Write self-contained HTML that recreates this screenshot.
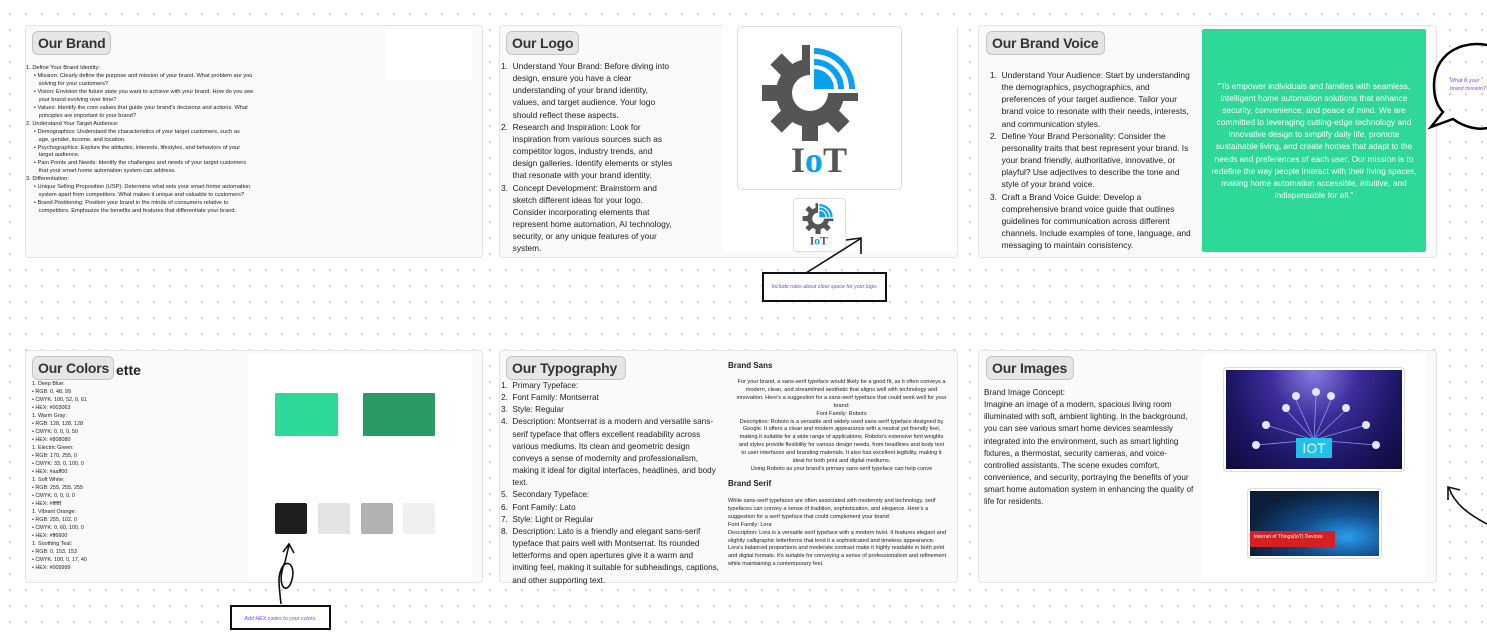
<!DOCTYPE html>
<html><head><meta charset="utf-8"><style>
*{margin:0;padding:0;box-sizing:border-box}
body{width:1487px;height:625px;overflow:hidden;position:relative;font-family:"Liberation Sans",sans-serif;color:#222;
background-color:#fff;background-image:radial-gradient(circle,#c8c8c8 0.8px,transparent 1.2px);background-size:16px 16px;background-position:2px 6px}
.a{position:absolute}
.panel{position:absolute;background:#fafafa;border:1px solid #e4e4e4;border-radius:4px}
.title{position:absolute;background:#e6e6e6;border:1px solid #c4c4c4;border-radius:6px;font-size:14px;font-weight:bold;color:#333;padding:0 5px;height:24px;line-height:23px;white-space:nowrap;overflow:hidden;letter-spacing:-0.2px}
.t{position:absolute;white-space:nowrap}
.tiny{font-size:5.7px;line-height:7.95px;color:#222}
.mid{font-size:8.4px;line-height:12.15px;color:#222}
.note{position:absolute;border:2px solid #111;background:#fff;color:#8a3ffc;font-style:italic;font-size:5.3px;text-align:center}
</style></head><body>

<!-- Panel 1 Our Brand -->
<div class="panel" style="left:25px;top:25px;width:458px;height:233px"></div>
<div class="a" style="left:387px;top:29px;width:85px;height:51px;background:#fff"></div>
<div class="title" style="left:32px;top:31px;width:79px">Our Brand</div>
<div class="t tiny" style="left:26px;top:65px">
1. Define Your Brand Identity:<br>
&nbsp;&nbsp;&nbsp;&nbsp;&nbsp;• Mission: Clearly define the purpose and mission of your brand. What problem are you<br>
&nbsp;&nbsp;&nbsp;&nbsp;&nbsp;&nbsp;&nbsp;&nbsp;solving for your customers?<br>
&nbsp;&nbsp;&nbsp;&nbsp;&nbsp;• Vision: Envision the future state you want to achieve with your brand. How do you see<br>
&nbsp;&nbsp;&nbsp;&nbsp;&nbsp;&nbsp;&nbsp;&nbsp;your brand evolving over time?<br>
&nbsp;&nbsp;&nbsp;&nbsp;&nbsp;• Values: Identify the core values that guide your brand's decisions and actions. What<br>
&nbsp;&nbsp;&nbsp;&nbsp;&nbsp;&nbsp;&nbsp;&nbsp;principles are important to your brand?<br>
2. Understand Your Target Audience:<br>
&nbsp;&nbsp;&nbsp;&nbsp;&nbsp;• Demographics: Understand the characteristics of your target customers, such as<br>
&nbsp;&nbsp;&nbsp;&nbsp;&nbsp;&nbsp;&nbsp;&nbsp;age, gender, income, and location.<br>
&nbsp;&nbsp;&nbsp;&nbsp;&nbsp;• Psychographics: Explore the attitudes, interests, lifestyles, and behaviors of your<br>
&nbsp;&nbsp;&nbsp;&nbsp;&nbsp;&nbsp;&nbsp;&nbsp;target audience.<br>
&nbsp;&nbsp;&nbsp;&nbsp;&nbsp;• Pain Points and Needs: Identify the challenges and needs of your target customers<br>
&nbsp;&nbsp;&nbsp;&nbsp;&nbsp;&nbsp;&nbsp;&nbsp;that your smart home automation system can address.<br>
3. Differentiation:<br>
&nbsp;&nbsp;&nbsp;&nbsp;&nbsp;• Unique Selling Proposition (USP): Determine what sets your smart home automation<br>
&nbsp;&nbsp;&nbsp;&nbsp;&nbsp;&nbsp;&nbsp;&nbsp;system apart from competitors. What makes it unique and valuable to customers?<br>
&nbsp;&nbsp;&nbsp;&nbsp;&nbsp;• Brand Positioning: Position your brand in the minds of consumers relative to<br>
&nbsp;&nbsp;&nbsp;&nbsp;&nbsp;&nbsp;&nbsp;&nbsp;competitors. Emphasize the benefits and features that differentiate your brand.
</div>

<!-- Panel 2 Our Logo -->
<div class="panel" style="left:499px;top:25px;width:459px;height:233px"></div>
<div class="a" style="left:723px;top:25px;width:234px;height:227px;background:#fff"></div>
<div class="title" style="left:506px;top:31px;width:73px">Our Logo</div>
<div class="t mid" style="left:501px;top:60px">
1.&nbsp; Understand Your Brand: Before diving into<br>
&nbsp;&nbsp;&nbsp;&nbsp;&nbsp;design, ensure you have a clear<br>
&nbsp;&nbsp;&nbsp;&nbsp;&nbsp;understanding of your brand identity,<br>
&nbsp;&nbsp;&nbsp;&nbsp;&nbsp;values, and target audience. Your logo<br>
&nbsp;&nbsp;&nbsp;&nbsp;&nbsp;should reflect these aspects.<br>
2.&nbsp; Research and Inspiration: Look for<br>
&nbsp;&nbsp;&nbsp;&nbsp;&nbsp;inspiration from various sources such as<br>
&nbsp;&nbsp;&nbsp;&nbsp;&nbsp;competitor logos, industry trends, and<br>
&nbsp;&nbsp;&nbsp;&nbsp;&nbsp;design galleries. Identify elements or styles<br>
&nbsp;&nbsp;&nbsp;&nbsp;&nbsp;that resonate with your brand identity.<br>
3.&nbsp; Concept Development: Brainstorm and<br>
&nbsp;&nbsp;&nbsp;&nbsp;&nbsp;sketch different ideas for your logo.<br>
&nbsp;&nbsp;&nbsp;&nbsp;&nbsp;Consider incorporating elements that<br>
&nbsp;&nbsp;&nbsp;&nbsp;&nbsp;represent home automation, AI technology,<br>
&nbsp;&nbsp;&nbsp;&nbsp;&nbsp;security, or any unique features of your<br>
&nbsp;&nbsp;&nbsp;&nbsp;&nbsp;system.
</div>
<!-- big logo -->
<div class="a" style="left:737px;top:26px;width:165px;height:164px;background:#fff;border:1px solid #ddd;border-radius:5px"></div>
<svg class="a" style="left:737px;top:26px" width="165" height="164" viewBox="0 0 165 164">
 <g transform="translate(73,67)">
  <g fill="#555">
   <circle r="34"/>
   <rect x="-8" y="-48" width="16" height="20"/>
   <rect x="-8" y="-48" width="16" height="20" transform="rotate(45)"/>
   <rect x="-8" y="-48" width="16" height="20" transform="rotate(90)"/>
   <rect x="-8" y="-48" width="16" height="20" transform="rotate(135)"/>
   <rect x="-8" y="-48" width="16" height="20" transform="rotate(180)"/>
   <rect x="-8" y="-48" width="16" height="20" transform="rotate(225)"/>
   <rect x="-8" y="-48" width="16" height="20" transform="rotate(270)"/>
   <rect x="-8" y="-48" width="16" height="20" transform="rotate(315)"/>
  </g>
  <rect x="0" y="-56" width="60" height="56" fill="#fff"/>
  <circle r="18" fill="#fff"/>
  <path d="M4,-4 L4,-24 A20,20 0 0 1 24,-4 Z" fill="#0aa0f0"/>
  <path d="M4,-31 A27,27 0 0 1 31,-4" fill="none" stroke="#0aa0f0" stroke-width="6"/>
  <path d="M4,-42 A38,38 0 0 1 42,-4" fill="none" stroke="#0aa0f0" stroke-width="6"/>
 </g>
 <text x="82" y="146" text-anchor="middle" font-family="Liberation Serif,serif" font-weight="bold" font-size="36" fill="#555">I<tspan fill="#0aa0f0">o</tspan>T</text>
</svg>
<!-- small logo -->
<div class="a" style="left:793px;top:198px;width:53px;height:54px;background:#fff;border:1px solid #ddd;border-radius:4px"></div>
<svg class="a" style="left:793px;top:198px" width="53" height="54" viewBox="0 0 165 164">
 <g transform="translate(78,62)">
  <g fill="#555">
   <circle r="34"/>
   <rect x="-8" y="-48" width="16" height="20"/>
   <rect x="-8" y="-48" width="16" height="20" transform="rotate(45)"/>
   <rect x="-8" y="-48" width="16" height="20" transform="rotate(90)"/>
   <rect x="-8" y="-48" width="16" height="20" transform="rotate(135)"/>
   <rect x="-8" y="-48" width="16" height="20" transform="rotate(180)"/>
   <rect x="-8" y="-48" width="16" height="20" transform="rotate(225)"/>
   <rect x="-8" y="-48" width="16" height="20" transform="rotate(270)"/>
   <rect x="-8" y="-48" width="16" height="20" transform="rotate(315)"/>
  </g>
  <rect x="0" y="-56" width="60" height="56" fill="#fff"/>
  <circle r="18" fill="#fff"/>
  <path d="M4,-4 L4,-24 A20,20 0 0 1 24,-4 Z" fill="#0aa0f0"/>
  <path d="M4,-31 A27,27 0 0 1 31,-4" fill="none" stroke="#0aa0f0" stroke-width="7"/>
  <path d="M4,-42 A38,38 0 0 1 42,-4" fill="none" stroke="#0aa0f0" stroke-width="7"/>
 </g>
 <text x="80" y="142" text-anchor="middle" font-family="Liberation Serif,serif" font-weight="bold" font-size="36" fill="#555">I<tspan fill="#0aa0f0">o</tspan>T</text>
</svg>
<svg class="a" style="left:800px;top:230px" width="70" height="50">
 <path d="M6,43 L60,9 M46,10 L61,8 L61,24" fill="none" stroke="#111" stroke-width="1.6"/>
</svg>
<div class="note" style="left:762px;top:272px;width:125px;height:30px;line-height:26px">Include rules about clear space for your logo.</div>

<!-- Panel 3 Brand Voice -->
<div class="panel" style="left:978px;top:25px;width:459px;height:233px"></div>
<div class="title" style="left:986px;top:31px;width:119px">Our Brand Voice</div>
<div class="t mid" style="left:990px;top:69px">
1.&nbsp; Understand Your Audience: Start by understanding<br>
&nbsp;&nbsp;&nbsp;&nbsp;&nbsp;the demographics, psychographics, and<br>
&nbsp;&nbsp;&nbsp;&nbsp;&nbsp;preferences of your target audience. Tailor your<br>
&nbsp;&nbsp;&nbsp;&nbsp;&nbsp;brand voice to resonate with their needs, interests,<br>
&nbsp;&nbsp;&nbsp;&nbsp;&nbsp;and communication styles.<br>
2.&nbsp; Define Your Brand Personality: Consider the<br>
&nbsp;&nbsp;&nbsp;&nbsp;&nbsp;personality traits that best represent your brand. Is<br>
&nbsp;&nbsp;&nbsp;&nbsp;&nbsp;your brand friendly, authoritative, innovative, or<br>
&nbsp;&nbsp;&nbsp;&nbsp;&nbsp;playful? Use adjectives to describe the tone and<br>
&nbsp;&nbsp;&nbsp;&nbsp;&nbsp;style of your brand voice.<br>
3.&nbsp; Craft a Brand Voice Guide: Develop a<br>
&nbsp;&nbsp;&nbsp;&nbsp;&nbsp;comprehensive brand voice guide that outlines<br>
&nbsp;&nbsp;&nbsp;&nbsp;&nbsp;guidelines for communication across different<br>
&nbsp;&nbsp;&nbsp;&nbsp;&nbsp;channels. Include examples of tone, language, and<br>
&nbsp;&nbsp;&nbsp;&nbsp;&nbsp;messaging to maintain consistency.
</div>
<div class="a" style="left:1202px;top:29px;width:224px;height:223px;background:#2ed897;border-radius:2px"></div>
<div class="t" style="left:1202px;top:80px;width:224px;text-align:center;color:#fff;font-size:8.3px;line-height:12.1px">
"To empower individuals and families with seamless,<br>
intelligent home automation solutions that enhance<br>
security, convenience, and peace of mind. We are<br>
committed to leveraging cutting-edge technology and<br>
innovative design to simplify daily life, promote<br>
sustainable living, and create homes that adapt to the<br>
needs and preferences of each user. Our mission is to<br>
redefine the way people interact with their living spaces,<br>
making home automation accessible, intuitive, and<br>
indispensable for all."
</div>
<svg class="a" style="left:1420px;top:40px" width="67" height="100">
 <path d="M67,5 C40,0 14,15 14,45 C14,58 18,67 23,72 L11,87 L33,79 C45,88 60,90 67,88" fill="none" stroke="#000" stroke-width="2.5"/>
</svg>
<div class="t" style="left:1450px;top:77px;color:#8a3ffc;font-style:italic;font-size:5.3px;line-height:8px">What is your<br>brand mission?</div>

<!-- Row 2 Panel 1 Colors -->
<div class="panel" style="left:25px;top:350px;width:458px;height:233px"></div>
<div class="a" style="left:248px;top:354px;width:224px;height:226px;background:#fff"></div>
<div class="t" style="left:116px;top:362px;font-size:14px;font-weight:bold;color:#222">ette</div>
<div class="title" style="left:32px;top:356px;width:82px">Our Colors</div>
<div class="t" style="left:32px;top:380px;font-size:5.4px;line-height:8px">
1. Deep Blue:<br>• RGB: 0, 48, 99<br>• CMYK: 100, 52, 0, 61<br>• HEX: #003063<br>
1. Warm Gray:<br>• RGB: 128, 128, 128<br>• CMYK: 0, 0, 0, 50<br>• HEX: #808080<br>
1. Electric Green:<br>• RGB: 170, 255, 0<br>• CMYK: 33, 0, 100, 0<br>• HEX: #aaff00<br>
1. Soft White:<br>• RGB: 255, 255, 255<br>• CMYK: 0, 0, 0, 0<br>• HEX: #ffffff<br>
1. Vibrant Orange:<br>• RGB: 255, 102, 0<br>• CMYK: 0, 60, 100, 0<br>• HEX: #ff6600<br>
1. Soothing Teal:<br>• RGB: 0, 153, 153<br>• CMYK: 100, 0, 17, 40<br>• HEX: #009999
</div>
<div class="a" style="left:275px;top:393px;width:63px;height:43px;background:#2ed897;border-radius:1px"></div>
<div class="a" style="left:363px;top:393px;width:72px;height:43px;background:#2a9b64;border-radius:1px"></div>
<div class="a" style="left:275px;top:503px;width:32px;height:31px;background:#1f1f1f;border-radius:2px"></div>
<div class="a" style="left:318px;top:503px;width:32px;height:31px;background:#e4e4e4;border-radius:2px"></div>
<div class="a" style="left:361px;top:503px;width:32px;height:31px;background:#b2b2b2;border-radius:2px"></div>
<div class="a" style="left:403px;top:503px;width:32px;height:31px;background:#f0f0f0;border-radius:2px"></div>
<svg class="a" style="left:265px;top:540px" width="40" height="65">
 <path d="M16,64 C14,45 12,35 18,26 C25,18 32,30 25,45 C18,55 12,40 20,22 L24,5 M18,12 L24,4 L29,13" fill="none" stroke="#111" stroke-width="1.6"/>
</svg>
<div class="note" style="left:230px;top:605px;width:101px;height:25px;line-height:25px">Add HEX codes to your colors.</div>

<!-- Row 2 Panel 2 Typography -->
<div class="panel" style="left:499px;top:350px;width:459px;height:233px"></div>
<div class="title" style="left:506px;top:356px;width:120px">Our Typography</div>
<div class="t mid" style="left:501px;top:380px;font-size:8.2px">
1.&nbsp; Primary Typeface:<br>
2.&nbsp; Font Family: Montserrat<br>
3.&nbsp; Style: Regular<br>
4.&nbsp; Description: Montserrat is a modern and versatile sans-<br>
&nbsp;&nbsp;&nbsp;&nbsp;&nbsp;serif typeface that offers excellent readability across<br>
&nbsp;&nbsp;&nbsp;&nbsp;&nbsp;various mediums. Its clean and geometric design<br>
&nbsp;&nbsp;&nbsp;&nbsp;&nbsp;conveys a sense of modernity and professionalism,<br>
&nbsp;&nbsp;&nbsp;&nbsp;&nbsp;making it ideal for digital interfaces, headlines, and body<br>
&nbsp;&nbsp;&nbsp;&nbsp;&nbsp;text.<br>
5.&nbsp; Secondary Typeface:<br>
6.&nbsp; Font Family: Lato<br>
7.&nbsp; Style: Light or Regular<br>
8.&nbsp; Description: Lato is a friendly and elegant sans-serif<br>
&nbsp;&nbsp;&nbsp;&nbsp;&nbsp;typeface that pairs well with Montserrat. Its rounded<br>
&nbsp;&nbsp;&nbsp;&nbsp;&nbsp;letterforms and open apertures give it a warm and<br>
&nbsp;&nbsp;&nbsp;&nbsp;&nbsp;inviting feel, making it suitable for subheadings, captions,<br>
&nbsp;&nbsp;&nbsp;&nbsp;&nbsp;and other supporting text.
</div>
<div class="t" style="left:728px;top:361px;font-size:8px;font-weight:bold">Brand Sans</div>
<div class="t" style="left:728px;top:379px;width:227px;text-align:center;font-size:5.6px;line-height:7.9px">
For your brand, a sans-serif typeface would likely be a good fit, as it often conveys a<br>
modern, clean, and streamlined aesthetic that aligns well with technology and<br>
innovation. Here's a suggestion for a sans-serif typeface that could work well for your<br>
brand:<br>
Font Family: Roboto<br>
Description: Roboto is a versatile and widely used sans-serif typeface designed by<br>
Google. It offers a clean and modern appearance with a neutral yet friendly feel,<br>
making it suitable for a wide range of applications. Roboto's extensive font weights<br>
and styles provide flexibility for various design needs, from headlines and body text<br>
to user interfaces and branding materials. It also has excellent legibility, making it<br>
ideal for both print and digital mediums.<br>
Using Roboto as your brand's primary sans-serif typeface can help conve
</div>
<div class="t" style="left:728px;top:479px;font-size:8px;font-weight:bold">Brand Serif</div>
<div class="t" style="left:728px;top:498px;font-size:5.6px;line-height:7.9px">
While sans-serif typefaces are often associated with modernity and technology, serif<br>
typefaces can convey a sense of tradition, sophistication, and elegance. Here's a<br>
suggestion for a serif typeface that could complement your brand:<br>
Font Family: Lora<br>
Description: Lora is a versatile serif typeface with a modern twist. It features elegant and<br>
slightly calligraphic letterforms that lend it a sophisticated and timeless appearance.<br>
Lora's balanced proportions and moderate contrast make it highly readable in both print<br>
and digital formats. It's suitable for conveying a sense of professionalism and refinement<br>
while maintaining a contemporary feel.
</div>

<!-- Row 2 Panel 3 Images -->
<div class="panel" style="left:978px;top:350px;width:459px;height:233px"></div>
<div class="a" style="left:1202px;top:354px;width:224px;height:226px;background:#fff"></div>
<div class="title" style="left:986px;top:356px;width:88px">Our Images</div>
<div class="t mid" style="left:984px;top:387px;font-size:8.1px">
Brand Image Concept:<br>
Imagine an image of a modern, spacious living room<br>
illuminated with soft, ambient lighting. In the background,<br>
you can see various smart home devices seamlessly<br>
integrated into the environment, such as smart lighting<br>
fixtures, a thermostat, security cameras, and voice-<br>
controlled assistants. The scene exudes comfort,<br>
convenience, and security, portraying the benefits of your<br>
smart home automation system in enhancing the quality of<br>
life for residents.
</div>
<div class="a" style="left:1223px;top:367px;width:182px;height:105px;background:#fff;border:1px solid #ddd;border-radius:4px"></div>
<div class="a" style="left:1226px;top:370px;width:176px;height:99px;background:radial-gradient(ellipse at 50% 0%,#8a7fe0 0%,#3d2c9a 35%,#1a1560 70%,#0e0c3a 100%)"></div>
<svg class="a" style="left:1226px;top:370px" width="176" height="99">
 <g stroke="#9fb8ff" stroke-width="0.8" fill="none" opacity="0.8">
  <path d="M88,70 L60,40 M88,70 L70,30 M88,70 L90,25 M88,70 L105,30 M88,70 L120,40 M88,70 L40,55 M88,70 L140,55 M88,70 L30,75 M88,70 L150,75"/>
 </g>
 <g fill="#dfe6ff"><circle cx="60" cy="38" r="4"/><circle cx="70" cy="26" r="4"/><circle cx="90" cy="22" r="4"/><circle cx="105" cy="26" r="4"/><circle cx="120" cy="38" r="4"/><circle cx="40" cy="55" r="4"/><circle cx="140" cy="55" r="4"/><circle cx="30" cy="75" r="4"/><circle cx="150" cy="75" r="4"/></g>
 <rect x="70" y="68" width="36" height="20" fill="#1fc3e8"/>
 <text x="88" y="83" text-anchor="middle" font-size="14" fill="#e9fbff" font-family="Liberation Sans,sans-serif">IOT</text>
</svg>
<div class="a" style="left:1247px;top:488px;width:135px;height:71px;background:#fff;border:1px solid #ddd;border-radius:4px"></div>
<div class="a" style="left:1250px;top:491px;width:129px;height:65px;background:radial-gradient(ellipse at 75% 70%,#2a9df0 0%,#124c8a 35%,#0b1f3a 75%)"></div>
<div class="a" style="left:1250px;top:531px;width:85px;height:16px;background:#d42020;color:#fff;font-size:5px;line-height:12px;padding-left:4px;white-space:nowrap">Internet of Things(IoT) Devices</div>
<svg class="a" style="left:1440px;top:480px" width="47" height="50">
 <path d="M47,44 C30,35 15,25 9,8 M8,20 L8,7 L20,10" fill="none" stroke="#111" stroke-width="1.6"/>
</svg>
</body></html>
